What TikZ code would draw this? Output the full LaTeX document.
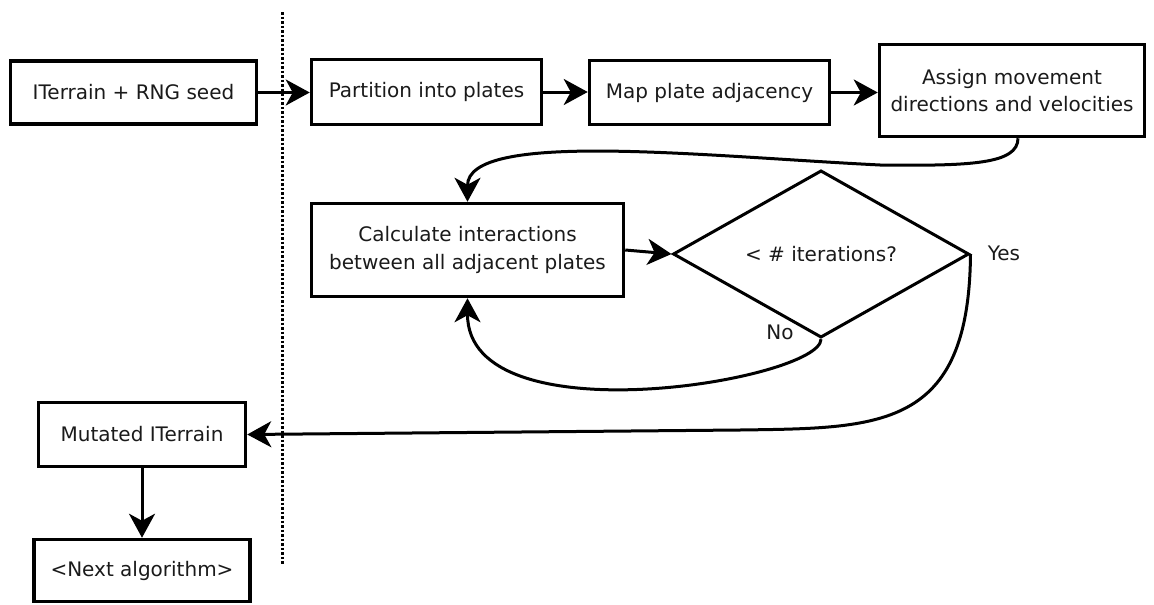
\documentclass[tikz,border=0pt]{standalone}
\usepackage{fontspec}
\setmainfont{DejaVu Sans}
\usetikzlibrary{arrows.meta,shapes.geometric}
\definecolor{textgray}{HTML}{1A1A1A}

\tikzset{
	stepbox/.style={draw, line width=3.5pt, inner sep=0pt, align=center, text=textgray},
	decision/.style={draw, shape=diamond, line width=3pt, inner sep=0pt, minimum width=296pt, minimum height=147pt, text=textgray},
	conn/.style={line width=3pt, -{Stealth[length=24pt, width=26pt, inset=7pt]}},
	divider/.style={line width=3pt, dash pattern=on 2.5pt off 2pt},
	edgelabel/.style={inner sep=0pt, text=textgray}
}

\begin{document}
\begin{tikzpicture}[x=1pt, y=-1pt, every node/.style={font=\fontsize{20}{27.5}\selectfont}]
		\useasboundingbox (0,0) rectangle (1154,605);
		\draw[divider] (282,12) -- (282,565);
		% top row
		\node[stepbox, minimum width=246pt, minimum height=63pt] (seed) at (133.5,92.5) {ITerrain + RNG seed};
		\node[stepbox, minimum width=230pt, minimum height=65pt] (partition) at (426.5,92) {Partition into plates};
		\node[stepbox, minimum width=240pt, minimum height=64pt] (adjacency) at (709.5,92.5) {Map plate adjacency};
		\node[stepbox, minimum width=265pt, minimum height=92pt] (assign) at (1012,90.5) {Assign movement\\directions and velocities};
		% loop
		\node[stepbox, minimum width=312pt, minimum height=93pt] (calc) at (467.5,250) {Calculate interactions\\between all adjacent plates};
		\node[decision] (check) at (821,254) {< \# iterations?};
		\node[edgelabel] (yes) at (1004,253) {Yes};
		\node[edgelabel] (no) at (780,332) {No};
		% output
		\node[stepbox, minimum width=207pt, minimum height=64pt] (mutated) at (142,434.5) {Mutated ITerrain};
		\node[stepbox, minimum width=216pt, minimum height=62pt] (next) at (142,570.5) {<Next algorithm>};
		\draw[conn] (seed.east) -- (seed.east -| partition.west);
		\draw[conn] (partition.east) -- (partition.east -| adjacency.west);
		\draw[conn] (adjacency.east) -- (adjacency.east -| assign.west);
		\draw[conn] ([xshift=6pt]assign.south) .. controls +(0,26) and (970,166) .. (880,165) .. controls (700,156) and (467.5,130) .. (calc.north);
		\draw[conn] (calc.east) -- (check.west);
		\draw[conn] (check.south) .. controls (821,380) and (467.5,440) .. (calc.south);
		\draw[conn] (check.east) .. controls (969,430) and (880,428) .. (740,430) -- (mutated.east);
		\draw[conn] (mutated.south) -- (next.north);
\end{tikzpicture}
\end{document}
